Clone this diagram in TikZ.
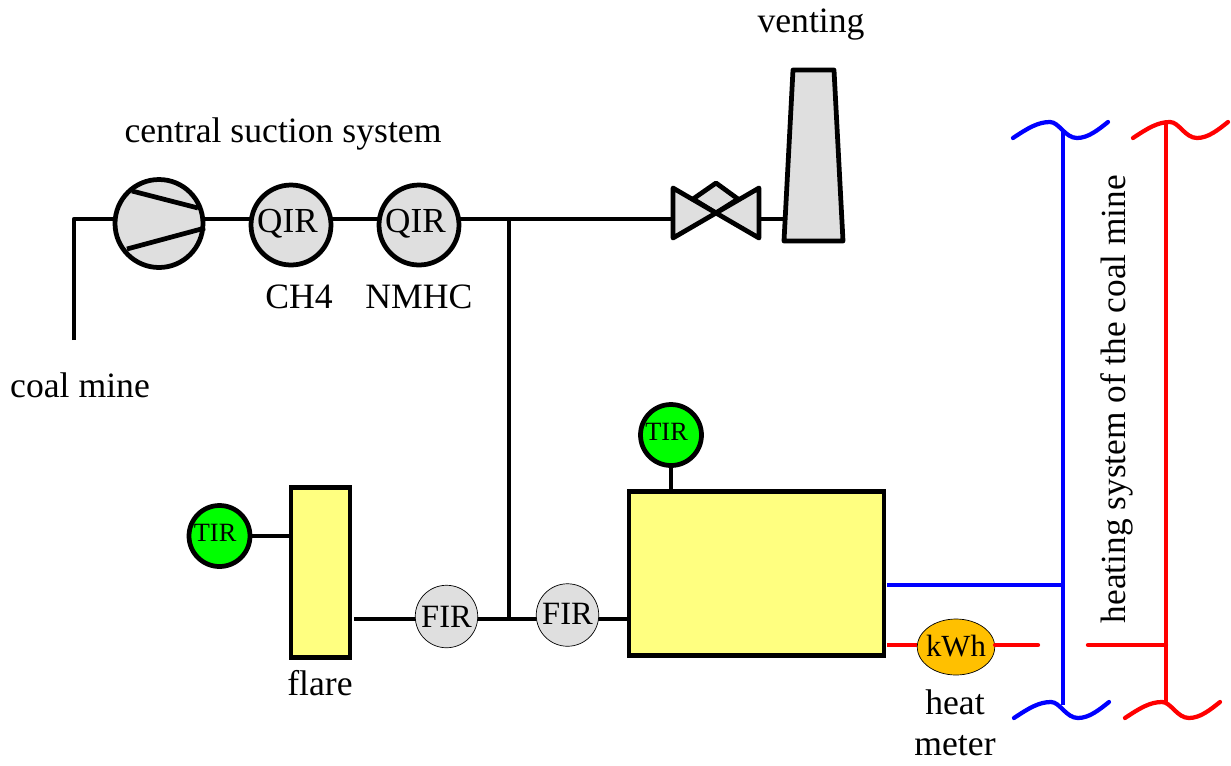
\documentclass[tikz,border=0pt]{standalone}
\usepackage{fontspec}
\setmainfont{Liberation Serif}
\usetikzlibrary{positioning, shapes.geometric}
\definecolor{figgray}{HTML}{DFDFDF}
\definecolor{figyellow}{HTML}{FFFF80}
\definecolor{figgreen}{HTML}{00FF00}
\definecolor{figamber}{HTML}{FFC000}
\tikzset{
  figlabel/.style={font=\fontsize{20.3}{23.3}\selectfont, align=center, inner sep=0pt},
  figpipe/.style={line width=0.095cm, black, line join=round},
  figsensor/.style={circle, draw=black, line width=0.095cm, inner sep=0pt, fill=figgray,
    minimum size=1.6cm, font=\fontsize{20}{22}\selectfont},
  figflow/.style={circle, draw=black, line width=0.4pt, inner sep=0pt, fill=figgray,
    minimum size=1.25cm, font=\fontsize{18.5}{20}\selectfont},
  figtemp/.style={circle, draw=black, line width=0.095cm, inner sep=0pt, fill=figgreen,
    minimum size=1.22cm, font=\fontsize{15}{16}\selectfont},
  figunit/.style={rectangle, draw=black, line width=0.095cm, inner sep=0pt, fill=figyellow},
  figshape/.style={draw=black, line width=0.095cm, line join=round, fill=figgray},
  figheat/.style={line width=0.085cm, line cap=round, line join=round},
}
\begin{document}
\begin{tikzpicture}[x=0.02cm,y=-0.02cm]
  \useasboundingbox (0,0) rectangle (1231,765);
  % Hauptleitung oben
  \coordinate (mine) at (74,340);
  \coordinate (corner) at (74,219);
  \coordinate (branch) at (509,219);
  \coordinate (join) at (509,619);
  \coordinate (valveL) at (673,219);
  \coordinate (valveR) at (759,219);
  \coordinate (stackL) at (786,219);
  \draw[figpipe] (mine) -- (corner) -- (valveL);
  \draw[figpipe] (valveR) -- (stackL);
  \draw[figpipe] (branch) -- (join);

  \node[circle, draw=black, line width=0.095cm, fill=figgray, minimum size=1.76cm, inner sep=0pt] (comp) at (159,223.5) {};
  \draw[figpipe] (132,191) -- (198,208);
  \draw[figpipe] (127,249) -- (205,228);
  \node[figsensor] (qir1) at (291,225) {\raisebox{5pt}{QIR\hspace{4pt}}};
  \node[figsensor] (qir2) at (419,225) {\raisebox{5pt}{QIR\hspace{4pt}}};

  % Ventil und Kamin
  \draw[figshape] (693,199) -- (716,183) -- (738,199) -- (716,213) -- cycle;
  \draw[figshape] (673,188) -- (716,213) -- (673,238) -- cycle;
  \draw[figshape] (759,188) -- (716,213) -- (759,238) -- cycle;
  \draw[figshape] (793,70) -- (834,70) -- (843,241) -- (784,241) -- cycle;

  % untere Reihe
  \node[figunit, minimum width=1.18cm, minimum height=3.4cm] (flare) at (320.5,572.5) {};
  \node[figunit, minimum width=5.1cm, minimum height=3.28cm] (chp) at (756.5,573.5) {};
  \coordinate (flareR) at (354,619);
  \coordinate (chpL) at (628,619);
  \draw[figpipe] (flareR) -- (chpL);
  \node[figflow] (fir1) at (446.5,616.5) {FIR};
  \node[figflow] (fir2) at (567.5,615) {\raisebox{1pt}{FIR}};
  \node[figtemp] (tir1) at (219.5,536) {\raisebox{4pt}{TIR\hspace{5pt}}};
  \node[figtemp] (tir2) at (671,435) {\raisebox{4pt}{TIR\hspace{5pt}}};
  \draw[figpipe] (tir1.east) -- (tir1.east -| flare.west);
  \draw[figpipe] (tir2) -- (tir2 |- chp.north);

  % Heizkreis
  \foreach \col/\x/\y in {blue/1013/138,red/1133/138,blue/1014/718,red/1125/718} {
    \draw[figheat, \col, shift={(\x,\y)}] (0,0) .. controls (15,-10) and (25,-16) .. (37,-16)
      .. controls (46,-16) and (52,0) .. (64,0) .. controls (75,0) and (85,-8) .. (95,-16);
  }
  \coordinate (blueT) at (1063,132);
  \coordinate (blueB) at (1063,705);
  \coordinate (redT) at (1166,122);
  \coordinate (redB) at (1166,703);
  \coordinate (blueJ) at (1063,585);
  \coordinate (chpB) at (887,585);
  \coordinate (chpR) at (887,645);
  \coordinate (stubE) at (1038,645);
  \coordinate (stubS) at (1088,645);
  \coordinate (redJ) at (1166,645);
  \node[ellipse, draw=black, line width=0.4pt, fill=figamber, inner ysep=0pt, inner xsep=-0.05cm, minimum width=1.52cm,
    minimum height=1.12cm, font=\fontsize{17.5}{19}\selectfont] (meter) at (956,647) {\raisebox{1.5pt}{kWh}};
  \draw[figheat, blue, line cap=butt] (blueT) -- (blueB);
  \draw[figheat, red, line cap=butt] (redT) -- (redB);
  \draw[figheat, blue, line cap=butt] (chpB) -- (blueJ);
  \draw[figheat, red, line cap=butt] (chpR) -- (meter.west |- chpR);
  \draw[figheat, red] (meter.east |- stubE) -- (stubE);
  \draw[figheat, red] (stubS) -- (redJ);

  % Beschriftung
  \node[figlabel] (lsuction) at (283,134) {central suction system};
  \node[figlabel] (lventing) at (811,25) {venting};
  \node[figlabel] (lch) at (299,297) {CH4};
  \node[figlabel] (lnmhc) at (419,297) {NMHC};
  \node[figlabel] (lmine) at (80,385) {coal mine};
  \node[figlabel] (lflare) at (320,683) {flare};
  \node[figlabel] (lmeter) at (955,723) {heat\\meter};
  \node[figlabel, rotate=90, font=\fontsize{20.1}{23}\selectfont] (lheat) at (1117,399) {heating system of the coal mine};
\end{tikzpicture}
\end{document}
